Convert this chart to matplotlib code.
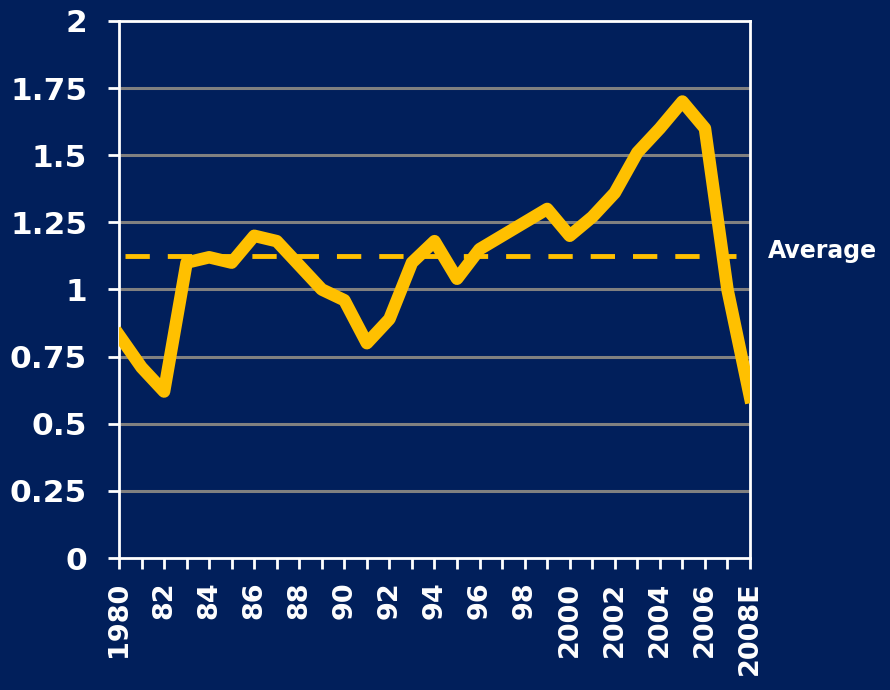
import matplotlib
import matplotlib.pyplot as plt
import numpy as np

matplotlib.use("Agg")

# data
years = list(range(1980, 2009))
tick_labels = [
    "1980", "", "82", "", "84", "", "86", "", "88", "", "90", "", "92", "",
    "94", "", "96", "", "98", "", "2000", "", "2002", "", "2004", "", "2006",
    "", "2008E",
]
values = [
    0.83, 0.71, 0.62, 1.10, 1.12, 1.10, 1.20, 1.18, 1.09, 1.00,
    0.96, 0.80, 0.89, 1.10, 1.18, 1.04, 1.15, 1.20, 1.25, 1.30,
    1.20, 1.27, 1.36, 1.51, 1.60, 1.70, 1.60, 1.00, 0.60,
]
average = 1.125
y_ticks = [0, 0.25, 0.5, 0.75, 1, 1.25, 1.5, 1.75, 2]
y_labels = ["0", "0.25", "0.5", "0.75", "1", "1.25", "1.5", "1.75", "2"]

navy = "#011f5b"
gold = "#ffc000"

fig = plt.figure(figsize=(8.9, 6.9), dpi=100, facecolor=navy)
ax = fig.add_axes([0.1337, 0.1913, 0.7090, 0.7783], facecolor=navy)

x = np.arange(len(years))

# gridlines
for yv in y_ticks[1:-1]:
    ax.axhline(yv, color="#808080", lw=2.2, zorder=1)

ax.plot(
    [0.25, len(years) - 1.6], [average, average],
    color=gold, lw=3.5, dashes=(5.0, 3.7), zorder=2,
)
ax.plot(x, values, color=gold, lw=9, solid_joinstyle="round", zorder=3)

ax.set_xlim(0, len(years) - 1)
ax.set_ylim(0, 2)

ax.set_yticks(y_ticks)
ax.set_yticklabels(y_labels)
ax.set_xticks(x)
ax.set_xticklabels(tick_labels, rotation=90)

for sp in ax.spines.values():
    sp.set_color("white")
    sp.set_linewidth(2)

ax.tick_params(
    axis="y", colors="white", length=8, width=2, pad=15, labelsize=22.5
)
ax.tick_params(
    axis="x", colors="white", length=8, width=2, pad=9, labelsize=19.5
)
for lab in ax.get_yticklabels() + ax.get_xticklabels():
    lab.set_fontweight("bold")
    lab.set_color("white")

fig.text(
    768 / 890, 1 - 251 / 690, "Average", color="white",
    fontsize=17, fontweight="bold", va="center", ha="left",
)

fig.savefig("out.png", dpi=100, facecolor=navy)
